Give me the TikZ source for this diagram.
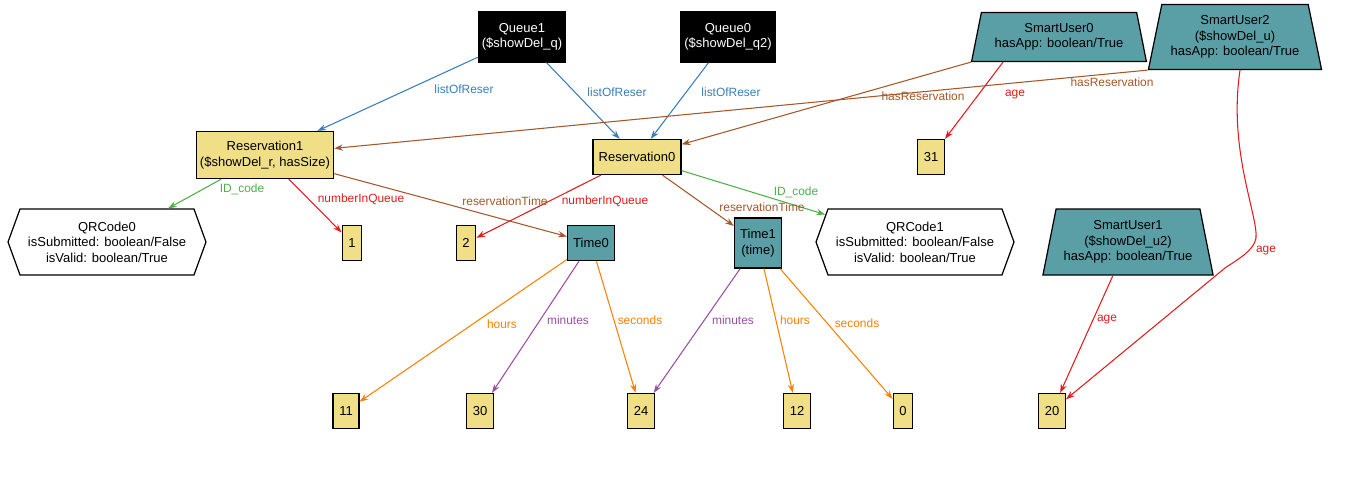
\documentclass[tikz,border=0pt]{standalone}
\usepackage{fontspec}
\setmainfont{Liberation Sans}
\usetikzlibrary{arrows.meta, shapes.geometric, shapes.symbols}
\definecolor{qblue}{HTML}{377EB8}
\definecolor{rbrown}{HTML}{A65628}
\definecolor{ared}{HTML}{E41A1C}
\definecolor{idgreen}{HTML}{4DAF4A}
\definecolor{torange}{HTML}{FF7F00}
\definecolor{mpurple}{HTML}{984EA3}
\definecolor{khaki}{HTML}{F0DF87}
\definecolor{objteal}{HTML}{5A9EA6}
\tikzstyle{box}=[draw, line width=0.7pt, inner sep=2pt, align=center, font=\fontsize{7.4}{8.8}\selectfont]
\tikzstyle{val}=[box, fill=khaki, minimum width=0.38cm, minimum height=0.7cm, inner xsep=3.5pt]
\tikzstyle{res}=[box, fill=khaki]
\tikzstyle{timebox}=[box, fill=objteal]
\tikzstyle{queue}=[box, fill=black, text=white, minimum width=1.36cm, minimum height=1cm]
\tikzstyle{user}=[box, fill=objteal, trapezium, trapezium angle=76, trapezium stretches=true]
\tikzstyle{qr}=[box, fill=white, signal, signal to=west and east, signal pointer angle=140, minimum width=3.96cm, minimum height=1.32cm]
\tikzstyle{lbl}=[inner sep=1pt, font=\fontsize{6.8}{8}\selectfont]
\tikzstyle{link}=[line width=0.6pt, -{Stealth[length=5pt, width=3.5pt]}]
\newcommand{\valbox}{\node[val]}

\begin{document}
\begin{tikzpicture}[x=0.02cm, y=-0.02cm]
\useasboundingbox (0,0) rectangle (1349,480);
% objects
\node[queue] (Queue1) at (522,37) {Queue1\\(\$showDel\_q)};
\node[queue] (Queue0) at (728,37) {Queue0\\(\$showDel\_q2)};
\node[user, minimum width=3.5cm, minimum height=0.98cm] (SmartUser0) at (1059,37) {SmartUser0\\hasApp: boolean/True};
\node[user, minimum width=3.48cm, minimum height=1.3cm] (SmartUser2) at (1235,37) {SmartUser2\\(\$showDel\_u)\\hasApp: boolean/True};
\node[res, minimum width=2.74cm, minimum height=0.94cm] (Reservation1) at (265,155) {Reservation1\\(\$showDel\_r, hasSize)};
\node[res, minimum width=1.76cm, minimum height=0.7cm] (Reservation0) at (637,157) {Reservation0};
\node[qr] (QRCode0) at (107,242) {QRCode0\\isSubmitted: boolean/False\\isValid: boolean/True};
\node[qr] (QRCode1) at (915,242) {QRCode1\\isSubmitted: boolean/False\\isValid: boolean/True};
\node[timebox, minimum width=0.94cm, minimum height=0.7cm] (Time0) at (591,243) {Time0};
\node[timebox, minimum width=0.94cm, minimum height=1cm] (Time1) at (758,243) {Time1\\(time)};
\node[user, minimum width=3.42cm, minimum height=1.32cm] (SmartUser1) at (1128,242) {SmartUser1\\(\$showDel\_u2)\\hasApp: boolean/True};
\foreach \v/\x/\y in {31/931/157, 1/352/243, 2/466/243, 11/346/411, 30/480/411, 24/641/411, 12/797/411, 0/903/411, 20/1052/411}
	\valbox (v\v) at (\x,\y) {\v};

% links
\path[link, qblue] (Queue1) edge (Reservation1) (Queue1) edge (Reservation0) (Queue0) edge (Reservation0);
\path[link, rbrown] (SmartUser0.bottom left corner) edge (Reservation0) (SmartUser2.bottom left corner) edge (Reservation1)
	(Reservation1) edge (Time0) (Reservation0) edge (Time1);
\path[link, idgreen] (Reservation1) edge (QRCode0) (Reservation0) edge (QRCode1);
\path[link, ared] ([xshift=-1.12cm]SmartUser0.south) edge (v31.north east) (SmartUser1) edge (v20)
	(Reservation1) edge (v1) (Reservation0) edge (v2);
\draw[link, ared] ([xshift=0.1cm]SmartUser2.south) .. controls (1228,150) and (1258,215) .. (1256,238)
	.. controls (1254,250) and (1240,258) .. (1225,268) -- (v20.40);
\path[link, torange] (Time0) edge (v11) (Time0) edge (v24) (Time1) edge (v12) (Time1) edge (v0);
\path[link, mpurple] (Time0) edge (v30) (Time1) edge (v24);

% labels
\foreach \t/\x/\y [count=\i] in {listOfReser/464/89, listOfReser/617/92, listOfReser/731/92}
	\node[lbl, text=qblue] (lq\i) at (\x,\y) {\t};
\foreach \t/\x/\y [count=\i] in {hasReservation/923/96, hasReservation/1112/82, reservationTime/505/201, reservationTime/762/207}
	\node[lbl, text=rbrown] (lr\i) at (\x,\y) {\t};
\foreach \t/\x/\y [count=\i] in {ID\_code/242/189, ID\_code/796/192}
	\node[lbl, text=idgreen] (li\i) at (\x,\y) {\t};
\foreach \t/\x/\y [count=\i] in {age/1015/95, age/1266/251, age/1107/320, numberInQueue/361/199, numberInQueue/605/201}
	\node[lbl, text=ared] (la\i) at (\x,\y) {\t};
\foreach \t/\x/\y [count=\i] in {hours/502/324, seconds/640/320, hours/795/320, seconds/857/323}
	\node[lbl, text=torange] (lt\i) at (\x,\y) {\t};
\foreach \t/\x/\y [count=\i] in {minutes/568/320, minutes/733/320}
	\node[lbl, text=mpurple] (lm\i) at (\x,\y) {\t};
\end{tikzpicture}
\end{document}
